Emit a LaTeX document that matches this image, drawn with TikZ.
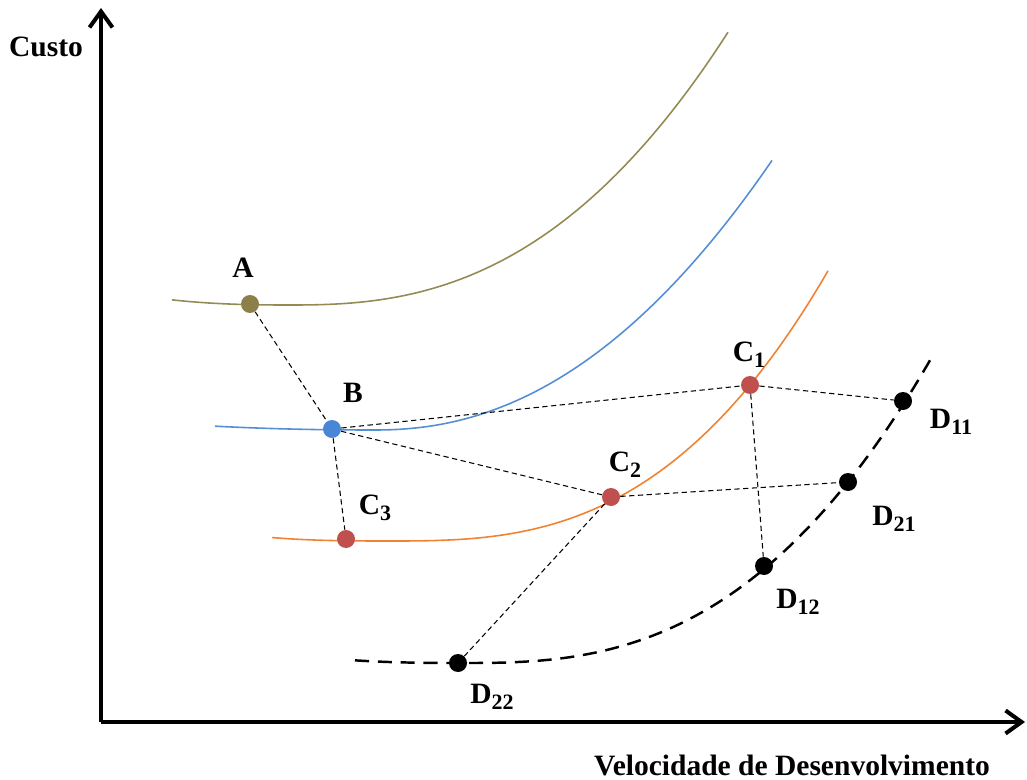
\documentclass[tikz,border=0pt]{standalone}
\usepackage{fontspec}
\setmainfont{Liberation Serif}
\usetikzlibrary{arrows.meta}
\definecolor{olivecurve}{HTML}{948A54}
\definecolor{bluecurve}{HTML}{558ED5}
\definecolor{orangecurve}{HTML}{F08232}
\definecolor{olivedot}{HTML}{8C7F4A}
\definecolor{bluedot}{HTML}{4A86D6}
\definecolor{reddot}{HTML}{C0504D}
\newcommand{\lowidx}[1]{\raisebox{-0.45ex}{\fontsize{12.5}{14}\selectfont #1}}

\begin{document}
\begin{tikzpicture}[
        x=0.02cm, y=-0.02cm,
        axis/.style={line width=2.3pt, -{Straight Barb[length=3.2mm, width=4.6mm]}},
        curve/.style={line width=0.9pt, draw=#1},
        dot/.style={circle, fill=#1, inner sep=0pt, minimum size=3.6mm},
        link/.style={dash pattern=on 3pt off 2pt, line width=0.6pt},
        lbl/.style={font=\fontsize{16.8}{19}\selectfont\bfseries, inner sep=1pt}
    ]
        \useasboundingbox (0,0) rectangle (1027,780);

        % Curves
        \draw[curve=olivecurve] plot[domain=172:728, samples=90]
            (\x, {305 - 22*(abs(\x-290)/160+0.0001)^2.5*(\x<290 ? 0.5 : 1)});
        \draw[curve=bluecurve] plot[domain=215:772, samples=90]
            (\x, {430 - 93*(abs(\x-375)/242+0.0001)^2.15*(\x<375 ? 0.1 : 1)});
        \draw[curve=orangecurve] plot[domain=272:828, samples=90]
            (\x, {541 - 156*(abs(\x-390)/360+0.0001)^2.8*(\x<390 ? 0.5 : 1)});
        \draw[line width=1.4pt, dash pattern=on 8pt off 5pt] plot[domain=355:933, samples=90]
            (\x, {663 - 181*(abs(\x-465)/383+0.0001)^2.65*(\x<465 ? 0.4 : 1)});

        % Points
        \node[dot=olivedot] (A) at (250,304) {};
        \node[dot=bluedot] (B) at (332,429) {};
        \node[dot=reddot] (C1) at (750,385) {};
        \node[dot=reddot] (C2) at (611,497) {};
        \node[dot=reddot] (C3) at (346,539) {};
        \node[dot=black] (D11) at (903,401) {};
        \node[dot=black] (D21) at (848,482) {};
        \node[dot=black] (D12) at (764,566) {};
        \node[dot=black] (D22) at (458,663) {};

        % Links
        \draw[link] (A) -- (B);
        \draw[link] (B) -- (C3);
        \draw[link] (B) -- (C1);
        \draw[link] (B) -- (C2);
        \draw[link] (C1) -- (D11);
        \draw[link] (C1) -- (D12);
        \draw[link] (C2) -- (D21);
        \draw[link] (C2) -- (D22);

        % Labels
        \node[lbl] (labA) at (243,268) {A};
        \node[lbl] (labB) at (353,393) {B};
        \node[lbl] (labC1) at (749,355) {C\lowidx{1}};
        \node[lbl] (labC2) at (625,465) {C\lowidx{2}};
        \node[lbl] (labC3) at (375,508) {C\lowidx{3}};
        \node[lbl] (labD11) at (951,422) {D\lowidx{11}};
        \node[lbl] (labD21) at (894,519) {D\lowidx{21}};
        \node[lbl] (labD12) at (798,602) {D\lowidx{12}};
        \node[lbl] (labD22) at (492,697) {D\lowidx{22}};

        % Axes
        \coordinate (origin) at (101,722);
        \coordinate (ytip) at (101,8);
        \coordinate (xtip) at (1025,722);
        \draw[axis] (origin) -- (ytip);
        \draw[axis] (origin) -- (xtip);
        \node[lbl] (ylab) at (46,47) {Custo};
        \node[lbl] (xlab) at (792,765) {Velocidade de Desenvolvimento};

    \end{tikzpicture}
\end{document}
